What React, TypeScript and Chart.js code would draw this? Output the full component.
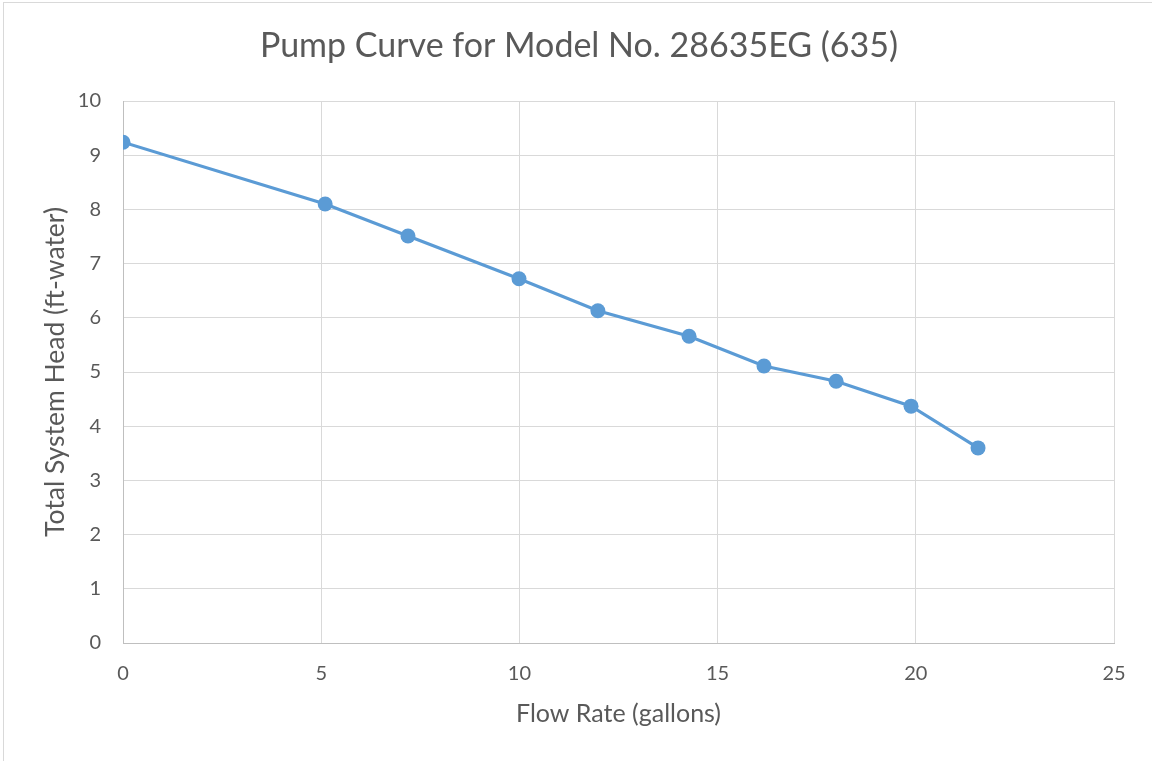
import React, { useEffect, useRef } from "react";
import { Chart, registerables } from "chart.js";

Chart.register(...registerables);

const flowRate = [0, 5.1, 7.19, 9.99, 11.98, 14.28, 16.17, 17.99, 19.88, 21.57];
const totalHead = [9.24, 8.1, 7.51, 6.72, 6.13, 5.66, 5.11, 4.83, 4.37, 3.6];

const chartTitle = "Pump Curve for Model No. 28635EG (635)";
const xTitle = "Flow Rate (gallons)";
const yTitle = "Total System Head (ft-water)";

const FONT = "Lato, 'Open Sans', 'DejaVu Sans', sans-serif";
const TEXT = "#595959";

const centeredTitle = {
  id: "centeredTitle",
  afterDraw(chart: any) {
    const ctx = chart.ctx;
    ctx.save();
    ctx.font = `normal 34px ${FONT}`;
    ctx.fillStyle = TEXT;
    ctx.textAlign = "center";
    ctx.textBaseline = "middle";
    ctx.fillText(chartTitle, (chart.width + 6) / 2, 46);
    ctx.restore();
  },
};

export default function App() {
  const ref = useRef<HTMLCanvasElement | null>(null);

  useEffect(() => {
    document.body.style.margin = "0";
    const canvas = ref.current;
    if (!canvas) return;
    const chart = new Chart(canvas, {
      type: "line",
      data: {
        datasets: [
          {
            label: "Pump Curve",
            data: flowRate.map((x, i) => ({ x, y: totalHead[i] })),
            borderColor: "#5b9bd5",
            backgroundColor: "#5b9bd5",
            borderWidth: 3.2,
            pointRadius: 7.5,
            pointBorderWidth: 0,
            pointBackgroundColor: "#5b9bd5",
            tension: 0,
            fill: false,
          },
        ],
      },
      plugins: [centeredTitle],
      options: {
        animation: false,
        responsive: false,
        maintainAspectRatio: false,
        layout: { padding: { left: 10, right: 38, top: 101, bottom: 30 } },
        plugins: {
          legend: { display: false },
          tooltip: { enabled: false },
          title: { display: false },
        },
        scales: {
          x: {
            type: "linear",
            min: 0,
            max: 25,
            ticks: {
              stepSize: 5,
              color: TEXT,
              padding: 19,
              font: { family: FONT, size: 20 },
            },
            grid: { color: "#d9d9d9", lineWidth: 1, drawTicks: false },
            border: { color: "#bfbfbf", width: 1 },
            title: {
              display: true,
              text: xTitle,
              color: TEXT,
              font: { family: FONT, size: 25, lineHeight: 1.2 },
              padding: { top: 0, bottom: 2 },
            },
            afterFit: (s: any) => {
              s.height = 88;
            },
          },
          y: {
            type: "linear",
            min: 0,
            max: 10,
            ticks: {
              stepSize: 1,
              color: TEXT,
              padding: 22,
              font: { family: FONT, size: 20 },
            },
            grid: { color: "#d9d9d9", lineWidth: 1, drawTicks: false },
            border: { color: "#bfbfbf", width: 1 },
            title: {
              display: true,
              text: yTitle,
              color: TEXT,
              font: { family: FONT, size: 26.5, lineHeight: 1.2 },
              padding: { top: 29.1, bottom: 0 },
            },
            afterFit: (s: any) => {
              s.width = 113;
            },
          },
        },
      },
    });
    return () => chart.destroy();
  }, []);

  return (
    <div style={{ position: "fixed", left: 0, top: 0, width: 1152, height: 761, background: "#fff", overflow: "hidden" }}>
      <div
        style={{
          position: "absolute",
          left: 3,
          top: 2,
          width: 1300,
          height: 900,
          border: "1px solid #d9d9d9",
          boxSizing: "border-box",
        }}
      />
      <canvas ref={ref} width={1152} height={761} style={{ position: "absolute", left: 0, top: 0, display: "block" }} />
    </div>
  );
}
